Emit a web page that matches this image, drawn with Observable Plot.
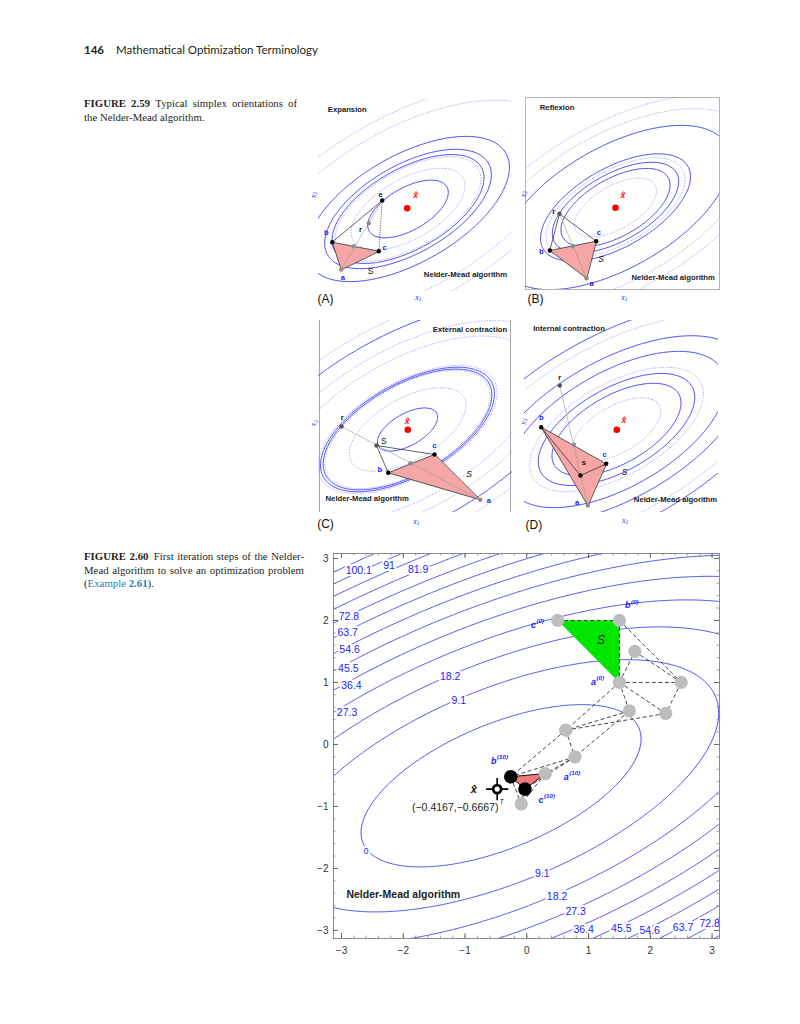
<!DOCTYPE html>
<html>
<head>
<meta charset="utf-8">
<script src="https://cdn.jsdelivr.net/npm/d3@7"></script>
<script src="https://cdn.jsdelivr.net/npm/@observablehq/plot@0.6"></script>
<style>
html,body{margin:0;padding:0;background:#fff;}
#page{position:relative;width:800px;height:1024px;overflow:hidden;background:#fff;color:#231f20;}
.abs{position:absolute;}
#hdr{left:84px;top:43px;font-family:Lato,"Open Sans",sans-serif;font-size:11.5px;white-space:nowrap;}
#hdr b{margin-right:12px;}
.cap{left:84px;font-family:"Liberation Serif","Times New Roman",serif;font-size:10.8px;line-height:13.5px;}
.cap .ln{text-align:justify;text-align-last:justify;}
.cap .last{text-align-last:left;}
.ex{color:#1f7fae;}
</style>
</head>
<body>
<div id="page">
  <div id="hdr" class="abs"><b>146</b>Mathematical Optimization Terminology</div>
  <div class="abs cap" style="top:97px;width:213px;">
    <div class="ln"><b>FIGURE 2.59</b>&ensp;Typical simplex orientations of</div>
    <div class="ln last">the Nelder-Mead algorithm.</div>
  </div>
  <div class="abs cap" style="top:550px;width:220px;">
    <div class="ln"><b>FIGURE 2.60</b>&ensp;First iteration steps of the Nelder-</div>
    <div class="ln">Mead algorithm to solve an optimization problem</div>
    <div class="ln last">(<span class="ex">Example <b>2.61</b></span>).</div>
  </div>
  <div id="pA" class="abs" style="left:306px;top:95px;"></div>
  <div id="pB" class="abs" style="left:513px;top:93px;"></div>
  <div id="pC" class="abs" style="left:306px;top:316px;"></div>
  <div id="pD" class="abs" style="left:512px;top:316px;"></div>
  <div id="main" class="abs" style="left:303px;top:551px;"></div>
</div>
<script>
// ================= MAIN CHART (Figure 2.60) =================
const contourLevels = [0, 9.1, 18.2, 27.3, 36.4, 45.5, 54.6, 63.7, 72.8, 81.9, 91, 100.1, 109.2];
const fCenter = [-0.4167, -0.6667];
const fCoef = [1.876, -3.752, 5.628];   // coefficients of u², uv, v²
const fMin = -6.43;

const labelText = ["100.1","91","81.9","72.8","63.7","54.6","45.5","36.4","27.3","18.2","9.1","0","9.1","18.2","27.3","36.4","45.5","54.6","63.7","72.8"];
const labelX    = [-2.72,-2.23,-1.76,-2.88,-2.90,-2.87,-2.89,-2.84,-2.91,-1.24,-1.10,-2.60,0.25,0.49,0.79,0.92,1.53,1.99,2.53,2.96];
const labelY    = [2.81,2.88,2.82,2.06,1.81,1.53,1.23,0.95,0.51,1.10,0.71,-1.73,-2.08,-2.46,-2.70,-2.98,-2.97,-3.00,-2.95,-2.89];

const axisTicks = [-3, -2, -1, 0, 1, 2, 3];

const nmNames = ["c0","b0","a0","p3","p4","p5","p6","p7","p8","a10","b10","m10","c10"];
const nmX     = [0.5, 1.5, 1.5, 1.75, 2.5, 1.66, 2.25, 0.63, 0.78, 0.30, -0.26, -0.03, -0.09];
const nmY     = [2.0, 2.0, 1.0, 1.5, 1.0, 0.54, 0.50, 0.23, -0.20, -0.47, -0.52, -0.72, -0.96];
const nmShade = ["gray","gray","gray","gray","gray","gray","gray","gray","gray","gray","black","black","gray"];

const dashedEdges = [["c0","b0"],["b0","a0"],["b0","p4"],["p3","p4"],["a0","p3"],["a0","p4"],["a0","p6"],["p4","p6"],
  ["a0","p5"],["a0","p7"],["p5","p7"],["p6","p7"],["p7","p8"],["p5","p8"],["p7","b10"],["p8","b10"],["p8","a10"],
  ["p8","m10"],["b10","c10"],["m10","c10"],["a10","c10"]];
const solidEdges = [["b10","a10"],["a10","m10"],["b10","m10"]];
const startSimplex = ["c0","b0","a0"];
const endSimplex = ["b10","a10","m10"];

const vertexLetter = ["c","b","a","b","a","c"];
const vertexIter   = ["(0)","(0)","(0)","(10)","(10)","(10)"];
const vertexTX     = [0.15, 1.68, 1.12, -0.49, 0.68, 0.27];
const vertexTY     = [1.92, 2.24, 1.00, -0.27, -0.53, -0.90];

const xhatPos = [-0.48, -0.72];

const nmPts = nmNames.map((n, i) => ({id: n, x: nmX[i], y: nmY[i], shade: nmShade[i]}));
const byId = Object.fromEntries(nmPts.map(p => [p.id, p]));
const toLinks = list => list.map(([a, b]) => ({x1: byId[a].x, y1: byId[a].y, x2: byId[b].x, y2: byId[b].y}));
const fMain = (x, y) => { const u = x - fCenter[0], v = y - fCenter[1]; return fCoef[0]*u*u + fCoef[1]*u*v + fCoef[2]*v*v + fMin; };
const cLabels = labelText.map((t, i) => ({t, x: labelX[i], y: labelY[i], s: t === "0" ? 8.5 : 10.5}));
const vLabels = vertexLetter.map((t, i) => ({t, sup: vertexIter[i], x: vertexTX[i], y: vertexTY[i]}));

const X0 = -3.13, X1 = 3.12, Y0 = -3.13, Y1 = 3.08, PW = 386, PH = 385;
const minor = d3.ticks(-3, 3, 30);
const fmtTick = d => (d < 0 ? "\u2212" : "") + Math.abs(d);

const mainPlot = Plot.plot({
  width: 418, height: 409, marginLeft: 30, marginRight: 2, marginTop: 2, marginBottom: 22,
  x: {domain: [X0, X1]}, y: {domain: [Y0, Y1]},
  style: {fontFamily: "'Liberation Sans', Arial, sans-serif", fontSize: "10px", color: "#333", background: "transparent", overflow: "visible"},
  marks: [
    Plot.contour({value: fMain, x1: X0 - 1, x2: X1 + 1, y1: Y0 - 1, y2: Y1 + 1, thresholds: contourLevels, stroke: "#3c3cf8", strokeWidth: 0.9, fill: "none", clip: true}),
    Plot.text(cLabels, {x: "x", y: "y", text: "t", fontSize: "s", fill: "#1c1cff", stroke: "white", strokeWidth: 4, paintOrder: "stroke"}),
    Plot.line(startSimplex.map(k => byId[k]), {x: "x", y: "y", curve: "linear-closed", fill: "#00e600", stroke: "none"}),
    Plot.line(endSimplex.map(k => byId[k]), {x: "x", y: "y", curve: "linear-closed", fill: "#f07a7a", stroke: "none"}),
    Plot.link(toLinks(dashedEdges), {x1: "x1", y1: "y1", x2: "x2", y2: "y2", stroke: "#1a1a1a", strokeWidth: 0.8, strokeDasharray: "4,2.5"}),
    Plot.link(toLinks(solidEdges), {x1: "x1", y1: "y1", x2: "x2", y2: "y2", stroke: "#111", strokeWidth: 1}),
    Plot.dot(nmPts.filter(p => p.shade === "gray"), {x: "x", y: "y", r: 6.6, fill: "#bdbdbd"}),
    Plot.dot(nmPts.filter(p => p.shade === "black"), {x: "x", y: "y", r: 6.8, fill: "#000"}),
    Plot.dot([{x: xhatPos[0], y: xhatPos[1]}], {x: "x", y: "y", symbol: "plus", r: 7.2, stroke: "#000", strokeWidth: 1.6}),
    Plot.dot([{x: xhatPos[0], y: xhatPos[1]}], {x: "x", y: "y", r: 4.0, fill: "#fff", stroke: "#000", strokeWidth: 2.8}),
    Plot.text(vLabels, {x: "x", y: "y", text: "t", textAnchor: "end", fill: "#1a1aff", fontSize: 9, fontWeight: "bold", fontStyle: "italic"}),
    Plot.text(vLabels, {x: "x", y: "y", text: "sup", textAnchor: "start", dx: 0.5, dy: -4, fill: "#1a1aff", fontSize: 6.2, fontWeight: "bold", fontStyle: "italic"}),
    Plot.text([{t: "S", x: 1.2, y: 1.69}], {x: "x", y: "y", text: "t", fontSize: 12, fontStyle: "italic", fill: "#222"}),
    Plot.text([{t: "x̂", x: -0.86, y: -0.73}], {x: "x", y: "y", text: "t", fontSize: 11, fontStyle: "italic", fontWeight: "bold", fill: "#111"}),
    Plot.text([{t: "(\u22120.4167,\u22120.6667)", x: -0.46, y: -1.02}], {x: "x", y: "y", text: "t", textAnchor: "end", fontSize: 10.5, fill: "#222"}),
    Plot.text([{t: "T", x: -0.46, y: -1.02}], {x: "x", y: "y", text: "t", textAnchor: "start", dx: 1, dy: -6, fontSize: 7, fontStyle: "italic", fill: "#222"}),
    Plot.text([{t: "Nelder-Mead algorithm", x: -2.0, y: -2.43}], {x: "x", y: "y", text: "t", fontSize: 10.5, fontWeight: "bold", fill: "#222"}),
    Plot.frame({stroke: "#8a8a8a"}),
    Plot.tickX(minor, {x: d => d, insetTop: PH - 2.5, stroke: "#777", strokeWidth: 0.7}),
    Plot.tickX(minor, {x: d => d, insetBottom: PH - 2.5, stroke: "#777", strokeWidth: 0.7}),
    Plot.tickY(minor, {y: d => d, insetRight: PW - 2.5, stroke: "#777", strokeWidth: 0.7}),
    Plot.tickY(minor, {y: d => d, insetLeft: PW - 2.5, stroke: "#777", strokeWidth: 0.7}),
    Plot.tickX(axisTicks, {x: d => d, insetTop: PH - 5, stroke: "#666"}),
    Plot.tickX(axisTicks, {x: d => d, insetBottom: PH - 5, stroke: "#666"}),
    Plot.tickY(axisTicks, {y: d => d, insetRight: PW - 5, stroke: "#666"}),
    Plot.tickY(axisTicks, {y: d => d, insetLeft: PW - 5, stroke: "#666"}),
    Plot.axisX({ticks: axisTicks, tickFormat: fmtTick, tickSize: 0, tickPadding: 8, label: null, fontSize: 10}),
    Plot.axisY({ticks: axisTicks, tickFormat: fmtTick, tickSize: 0, tickPadding: 5, label: null, fontSize: 10})
  ]
});
document.getElementById("main").appendChild(mainPlot);

// ================= SMALL PANELS (Figure 2.59) =================
// local panel units: x 0..194 (left→right), y 0..192 (bottom→top)
const SW = 194, SH = 192;
const panels = {
  pA: {
    center: [89.5, 82.5], R: 95, frame: "none",
    solid: [0.18, 0.64, 0.77, 1.14], dotted: [0.36, 0.59, 2.56, 3.42],
    xhat: [88.7, 83.3],
    ptId: ["a","b","c","m","r","e"],
    ptX:  [22.7, 13.7, 60.3, 35.3, 50.3, 63.7],
    ptY:  [22.0, 49.3, 40.3, 45.3, 68.3, 91.0],
    ptShade: ["gray","black","black","gray","gray","black"],
    tri: ["a","b","c"], dark: [["b","e"]], dotLines: [["c","e"]], thin: [["a","e"]],
    axisLabelX: [99.3, -5.7], axisLabelY: [-5.3, 96],
    labels: [
      {t:"Expansion", x:9.3, y:182, k:"title", anchor:"start"},
      {t:"Nelder-Mead algorithm", x:147, y:16.7, k:"title"},
      {t:"x̂", x:97, y:96, k:"red"},
      {t:"e", x:62, y:97, k:"pt"}, {t:"r", x:42, y:62, k:"pt"},
      {t:"b", x:7.7, y:59.3, k:"vx"}, {t:"c", x:66, y:44.3, k:"vx"}, {t:"a", x:24.3, y:14.3, k:"vx"},
      {t:"S", x:52, y:20, k:"S"},
      {t:"(A)", x:7, y:-7.3, k:"tag"}
    ]
  },
  pB: {
    center: [90, 82], R: 75, frame: "box",
    solid: [0.53, 0.71, 1.0, 2.34], dotted: [0.30, 0.86, 3.39, 4.41],
    xhat: [90, 81.7],
    ptId: ["a","b","c","m","r"],
    ptX:  [61.0, 24.3, 70.7, 47.3, 34.0],
    ptY:  [11.3, 39.0, 48.3, 43.3, 75.7],
    ptShade: ["gray","black","black","gray","dark"],
    tri: ["a","b","c"], dark: [["r","b"],["r","c"]], dotLines: [], thin: [["a","r"]],
    axisLabelX: [98.3, -7.7], axisLabelY: [-2.3, 94.7],
    labels: [
      {t:"Reflexion", x:14.3, y:182.3, k:"title", anchor:"start"},
      {t:"Nelder-Mead algorithm", x:147.7, y:11.7, k:"title"},
      {t:"x̂", x:97.3, y:94, k:"red"},
      {t:"r", x:28.3, y:78, k:"pt"},
      {t:"c", x:73.3, y:56.7, k:"vx"}, {t:"b", x:15.7, y:38.3, k:"vx"}, {t:"a", x:66, y:6.3, k:"vx"},
      {t:"S", x:75.7, y:30.7, k:"Si"},
      {t:"(B)", x:10, y:-9.3, k:"tag"}
    ]
  },
  pC: {
    center: [89, 83], R: 87, frame: "sides",
    solid: [0.12, 0.94, 1.0, 4.2], dotted: [0.45, 0.90, 1.06, 2.25, 3.06, 5.29],
    xhat: [89.3, 82.7],
    ptId: ["a","b","c","m","r","s"],
    ptX:  [161.7, 69.7, 116.0, 92.0, 23.0, 58.0],
    ptY:  [12.7, 39.7, 58.0, 49.3, 86.0, 67.0],
    ptShade: ["gray","black","black","gray","dark","dark"],
    tri: ["a","b","c"], dark: [["s","b"],["s","c"]], dotLines: [], thin: [["a","r"]],
    axisLabelX: [97.3, -8.7], axisLabelY: [-4.7, 88.7],
    labels: [
      {t:"External contraction", x:188.7, y:183, k:"title", anchor:"end"},
      {t:"Nelder-Mead algorithm", x:48.7, y:14, k:"title"},
      {t:"x̂", x:88.7, y:91.5, k:"red"},
      {t:"r", x:23.7, y:95.3, k:"pt"}, {t:"S", x:65.3, y:71.3, k:"S"},
      {t:"c", x:116, y:67, k:"vx"}, {t:"b", x:61.3, y:43, k:"vx"}, {t:"a", x:170.3, y:12, k:"vx"},
      {t:"S", x:150.7, y:38, k:"Si"},
      {t:"(C)", x:7, y:-11.3, k:"tag"}
    ]
  },
  pD: {
    center: [92, 83], R: 70, frame: "none",
    solid: [0.85, 1.25, 2.43, 3.5, 6.4], dotted: [0.40, 1.54, 5.24],
    xhat: [92.3, 82.7],
    ptId: ["a","b","c","m","r","s"],
    ptX:  [63.3, 16.7, 81.7, 49.3, 35.3, 56.0],
    ptY:  [7.0, 85.3, 48.7, 67.7, 127.0, 37.0],
    ptShade: ["gray","black","black","gray","dark","black"],
    tri: ["a","b","c"], dark: [["s","b"],["s","c"]], dotLines: [], thin: [["a","r"]],
    axisLabelX: [100, -8], axisLabelY: [-1.3, 90.3],
    labels: [
      {t:"Internal contraction", x:8.7, y:184.3, k:"title", anchor:"start"},
      {t:"Nelder-Mead algorithm", x:151, y:12.7, k:"title"},
      {t:"x̂", x:99.3, y:92, k:"red"},
      {t:"r", x:35.3, y:135.3, k:"pt"}, {t:"s", x:59.3, y:49.7, k:"pt"},
      {t:"b", x:16.7, y:95.3, k:"vx"}, {t:"c", x:80, y:57.7, k:"vx"}, {t:"a", x:52.7, y:10.3, k:"vx"},
      {t:"S", x:100, y:40.3, k:"Si"},
      {t:"(D)", x:9.3, y:-12.3, k:"tag"}
    ]
  }
};

const labelStyle = {
  title: {fontSize: 7.7, fontWeight: "bold", fill: "#1a1a1a"},
  red:   {fontSize: 8.5, fontWeight: "bold", fontStyle: "italic", fill: "#ff1010"},
  pt:    {fontSize: 7.5, fontWeight: "bold", fill: "#111"},
  vx:    {fontSize: 7.5, fontWeight: "bold", fill: "#1a1aff"},
  S:     {fontSize: 8.5, fill: "#111"},
  Si:    {fontSize: 8.5, fontStyle: "italic", fill: "#111"},
  tag:   {fontSize: 12, fill: "#111"}
};
const shadeColor = {black: "#000", gray: "#8e8e8e", dark: "#555"};

function smallPanel(cfg) {
  const g = (x, y) => { const u = x - cfg.center[0], v = y - cfg.center[1]; return 1.489 * (u*u - 1.6*u*v + 1.95*v*v) / (cfg.R * cfg.R); };
  const pts = cfg.ptId.map((id, i) => ({id, x: cfg.ptX[i], y: cfg.ptY[i], shade: cfg.ptShade[i]}));
  const P = Object.fromEntries(pts.map(p => [p.id, p]));
  const L = list => list.map(([a, b]) => ({x1: P[a].x, y1: P[a].y, x2: P[b].x, y2: P[b].y}));
  const marks = [];
  if (cfg.frame === "box") marks.push(Plot.frame({stroke: "#b4b4b4"}));
  if (cfg.frame === "sides") marks.push(Plot.ruleX([1, SW - 2], {stroke: "#a8a8a8"}));
  const ext = {x1: -60, x2: SW + 60, y1: -60, y2: SH + 60, fill: "none", clip: true};
  marks.push(Plot.contour({value: g, ...ext, thresholds: cfg.dotted, stroke: "#8c8cff", strokeWidth: 0.8, strokeDasharray: "1.2,1.4"}));
  marks.push(Plot.contour({value: g, ...ext, thresholds: cfg.solid, stroke: "#4848f0", strokeWidth: 1}));
  marks.push(Plot.line(cfg.tri.map(k => P[k]), {x: "x", y: "y", curve: "linear-closed", fill: "#f6a6a6", stroke: "#333", strokeWidth: 0.8}));
  marks.push(Plot.link(L(cfg.thin), {x1: "x1", y1: "y1", x2: "x2", y2: "y2", stroke: "#9a9a9a", strokeWidth: 0.6}));
  marks.push(Plot.link(L(cfg.dark), {x1: "x1", y1: "y1", x2: "x2", y2: "y2", stroke: "#222", strokeWidth: 0.7}));
  marks.push(Plot.link(L(cfg.dotLines), {x1: "x1", y1: "y1", x2: "x2", y2: "y2", stroke: "#222", strokeWidth: 0.8, strokeDasharray: "1,1.3"}));
  marks.push(Plot.dot(pts, {x: "x", y: "y", r: 2.2, fill: d => shadeColor[d.shade]}));
  marks.push(Plot.dot([{x: cfg.xhat[0], y: cfg.xhat[1]}], {x: "x", y: "y", r: 3.3, fill: "#ff0000"}));
  for (const l of cfg.labels) {
    marks.push(Plot.text([l], {x: "x", y: "y", text: "t", textAnchor: l.anchor || "middle", ...labelStyle[l.k]}));
  }
  const axStyle = {fill: "#2a2aff", fontFamily: "'Liberation Serif', serif", fontStyle: "italic"};
  const [ax, ay] = cfg.axisLabelX, [bx, by] = cfg.axisLabelY;
  marks.push(Plot.text([{t: "x", x: ax, y: ay}], {x: "x", y: "y", text: "t", textAnchor: "end", fontSize: 8, dx: 1, ...axStyle}));
  marks.push(Plot.text([{t: "1", x: ax, y: ay}], {x: "x", y: "y", text: "t", textAnchor: "start", fontSize: 5.5, dx: 1, dy: 2, ...axStyle}));
  marks.push(Plot.text([{t: "x", x: bx, y: by}], {x: "x", y: "y", text: "t", textAnchor: "end", fontSize: 8, rotate: -90, dy: -1, ...axStyle}));
  marks.push(Plot.text([{t: "2", x: bx, y: by}], {x: "x", y: "y", text: "t", textAnchor: "start", fontSize: 5.5, rotate: -90, dx: 2, dy: -1, ...axStyle}));
  return Plot.plot({
    width: SW + 16, height: SH + 26, marginLeft: 12, marginRight: 4, marginTop: 4, marginBottom: 22,
    x: {domain: [0, SW], axis: null}, y: {domain: [0, SH], axis: null},
    style: {fontFamily: "'Liberation Sans', Arial, sans-serif", background: "transparent", overflow: "visible"},
    marks
  });
}
for (const id of Object.keys(panels)) document.getElementById(id).appendChild(smallPanel(panels[id]));
</script>
</body>
</html>
